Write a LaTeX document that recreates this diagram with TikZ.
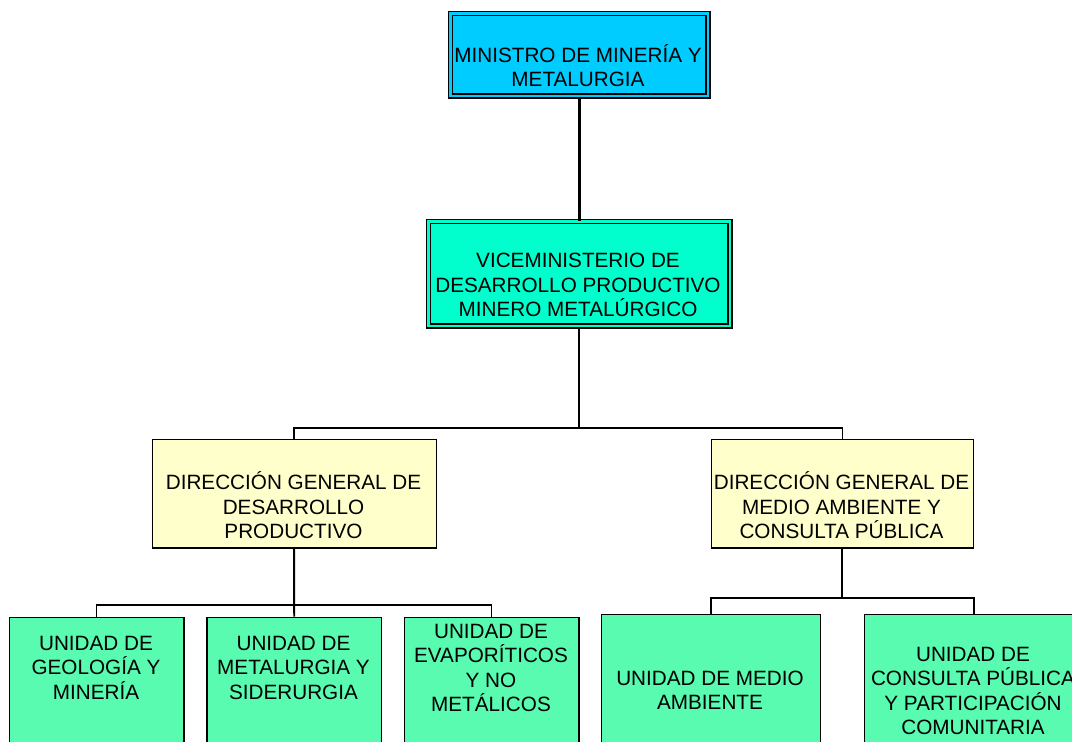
\documentclass[tikz,border=0pt]{standalone}
\usepackage{fontspec}
\setmainfont{Liberation Sans}
\definecolor{cMin}{RGB}{0,204,255}
\definecolor{cVice}{RGB}{0,255,204}
\definecolor{cDir}{RGB}{255,255,204}
\definecolor{cUni}{RGB}{88,251,176}
\begin{document}
\begin{tikzpicture}[x=1pt,y=-1pt,
  boxbase/.style={rectangle, inner sep=0pt, anchor=north west},
  dbox/.style={boxbase, draw, fill=#1, double=#1, double distance=2.8pt, line width=1.2pt},
  dirbox/.style={boxbase, draw, fill=cDir, line width=1.3pt},
  unibox/.style={boxbase, draw, fill=cUni, line width=1.4pt},
  txt/.style={inner sep=0pt, align=center, font=\fontsize{20.7}{24.5}\selectfont},
  thickline/.style={line width=3pt},
  midline/.style={line width=1.9pt},
  thinline/.style={line width=1.5pt}
]
\useasboundingbox (0,0) rectangle (1072,742);
\clip (0,0) rectangle (1072,742);

% boxes
\node[dbox=cMin, minimum width=257.6pt, minimum height=82.6pt] (min) at (449.7,12.7) {};
\node[dbox=cVice, minimum width=301.6pt, minimum height=104.6pt] (vice) at (427.7,220.7) {};
\node[dirbox, minimum width=284pt, minimum height=108.7pt] (dgL) at (151.5,438.7) {};
\node[dirbox, minimum width=262pt, minimum height=108.7pt] (dgR) at (710.7,438.7) {};
\node[unibox, minimum width=174.6pt, minimum height=200pt] (u1) at (8.7,616.7) {};
\node[unibox, minimum width=174.6pt, minimum height=200pt] (u2) at (206.2,616.7) {};
\node[unibox, minimum width=174.6pt, minimum height=200pt] (u3) at (403.7,616.7) {};
\node[unibox, minimum width=219pt, minimum height=200pt] (u4) at (600.7,613.7) {};
\node[unibox, minimum width=219pt, minimum height=200pt] (u5) at (863.7,613.7) {};

% texts
\node[txt] (tmin) at (578,65.5) {MINISTRO DE MINERÍA Y\\METALURGIA};
\node[txt] (tvice) at (578,285) {VICEMINISTERIO DE\\DESARROLLO PRODUCTIVO\\MINERO METALÚRGICO};
\node[txt] (tdgL) at (293.5,505.5) {DIRECCIÓN GENERAL DE\\DESARROLLO\\PRODUCTIVO};
\node[txt] (tdgR) at (841.5,505.5) {DIRECCIÓN GENERAL DE\\MEDIO AMBIENTE Y\\CONSULTA PÚBLICA};
\node[txt] (tu1) at (96,667.5) {UNIDAD DE\\GEOLOGÍA Y\\MINERÍA};
\node[txt] (tu2) at (293.5,667.5) {UNIDAD DE\\METALURGIA Y\\SIDERURGIA};
\node[txt] (tu3) at (491,668) {UNIDAD DE\\EVAPORÍTICOS\\Y NO\\METÁLICOS};
\node[txt] (tu4) at (710,690.5) {UNIDAD DE MEDIO\\AMBIENTE};
\node[txt] (tu5) at (973,691) {UNIDAD DE\\CONSULTA PÚBLICA\\Y PARTICIPACIÓN\\COMUNITARIA};

% connectors
\draw[thickline] (min.south) -- (vice.north);
\coordinate (j1) at (vice.south |- 0,428);
\draw[midline] (vice.south) -- (j1);
\draw[thinline] (dgL.north) |- (j1) -| (dgR.north);
\coordinate (j2) at (dgL.south |- 0,605);
\draw[midline] (dgL.south) -- (u2.north);
\draw[thinline] (u1.north) |- (j2) -| (u3.north);
\coordinate (j3) at (dgR.south |- 0,598);
\draw[midline] (dgR.south) -- (j3);
\draw[thinline] (u4.north) |- (j3) -| (u5.north);
\end{tikzpicture}
\end{document}
